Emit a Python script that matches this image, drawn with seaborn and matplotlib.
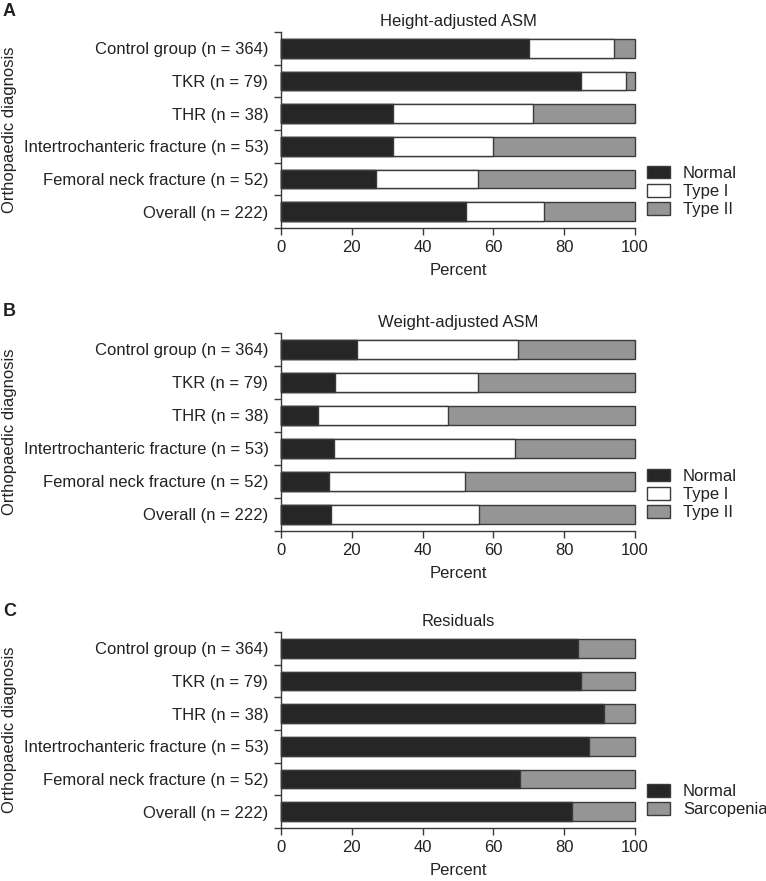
import numpy as np
import matplotlib
matplotlib.use("Agg")
import matplotlib.pyplot as plt
from matplotlib.patches import Patch
import seaborn as sns

# Data (percent per diagnosis group)
groups = [
    "Control group (n = 364)",
    "TKR (n = 79)",
    "THR (n = 38)",
    "Intertrochanteric fracture (n = 53)",
    "Femoral neck fracture (n = 52)",
    "Overall (n = 222)",
]

height_normal = [70.1, 84.8, 31.6, 31.5, 26.9, 52.2]
height_type1 = [24.0, 12.7, 39.5, 28.4, 28.8, 22.1]
height_type2 = [5.9, 2.5, 28.9, 40.1, 44.3, 25.7]

weight_normal = [21.5, 15.2, 10.5, 15.1, 13.5, 14.0]
weight_type1 = [45.4, 40.5, 36.8, 50.9, 38.5, 41.9]
weight_type2 = [33.1, 44.3, 52.7, 34.0, 48.0, 44.1]

resid_normal = [83.9, 84.8, 91.2, 87.0, 67.5, 82.2]
resid_sarcopenia = [16.1, 15.2, 8.8, 13.0, 32.5, 17.8]

x_ticks = [0, 20, 40, 60, 80, 100]

BLACK = "#262626"
WHITE = "#ffffff"
GRAY = "#959595"
EDGE = "#3a3a3a"
TEXT = "#222222"

sns.set_style("ticks")
plt.rcParams["font.family"] = ["Liberation Sans", "DejaVu Sans"]
plt.rcParams["font.size"] = 12
plt.rcParams["text.color"] = TEXT
plt.rcParams["axes.labelcolor"] = TEXT
plt.rcParams["xtick.color"] = EDGE
plt.rcParams["ytick.color"] = EDGE
plt.rcParams["xtick.labelcolor"] = TEXT
plt.rcParams["ytick.labelcolor"] = TEXT

W, H = 766, 881


def draw_panel(ax, title, series, names, colors):
    """Barras horizontais empilhadas, desenhadas da soma maior para a menor."""
    cum = np.cumsum(np.array(series, dtype=float), axis=0)
    for i in range(len(series) - 1, -1, -1):
        sns.barplot(x=cum[i], y=groups, orient="h", color=colors[i],
                    saturation=1, width=0.58, edgecolor=EDGE, linewidth=1,
                    errorbar=None, ax=ax)
    for p in ax.patches:
        p.set_clip_on(False)
    ax.set_xlim(0, 100)
    ax.set_ylim(len(groups) - 0.5, -0.5)
    ax.set_xticks(x_ticks)
    ax.set_yticks(np.arange(-0.5, len(groups), 1), minor=True)
    ax.tick_params(axis="y", which="major", length=0, pad=9, labelsize=12)
    ax.tick_params(axis="y", which="minor", length=5, width=1)
    ax.tick_params(axis="x", length=5, width=1, labelsize=12)
    ax.set_title(title, fontsize=12, pad=4)
    ax.set_xlabel("Percent", fontsize=12, labelpad=6)
    ax.set_ylabel("")
    for side in ["top", "right"]:
        ax.spines[side].set_visible(False)
    for side in ["left", "bottom"]:
        ax.spines[side].set_color(EDGE)
        ax.spines[side].set_linewidth(1)

    handles = [Patch(facecolor=c, edgecolor=EDGE, linewidth=1) for c in colors]
    ax.legend(handles, names, loc="lower left", bbox_to_anchor=(1.034, 0.055),
              frameon=False, borderpad=0, borderaxespad=0, fontsize=12,
              labelspacing=0.18, handlelength=1.35, handleheight=0.8,
              handletextpad=0.8)


fig = plt.figure(figsize=(W / 100, H / 100), dpi=100)

left = 281 / W
width = 354 / W
panels = [
    ("A", "Height-adjusted ASM", [height_normal, height_type1, height_type2],
     ["Normal", "Type I", "Type II"], [BLACK, WHITE, GRAY], 32, 228),
    ("B", "Weight-adjusted ASM", [weight_normal, weight_type1, weight_type2],
     ["Normal", "Type I", "Type II"], [BLACK, WHITE, GRAY], 333, 531),
    ("C", "Residuals", [resid_normal, resid_sarcopenia],
     ["Normal", "Sarcopenia"], [BLACK, GRAY], 632, 828),
]

for letter, title, series, names, colors, top, bottom in panels:
    ax = fig.add_axes([left, 1 - bottom / H, width, (bottom - top) / H])
    draw_panel(ax, title, series, names, colors)
    fig.text(3 / W, 1 - (top - 21) / H, letter, ha="left", va="center",
             fontsize=13, fontweight="bold")
    fig.text(10 / W, 1 - ((top + bottom) / 2) / H, "Orthopaedic diagnosis",
             rotation=90, ha="center", va="center", fontsize=12)

fig.savefig("out.png", dpi=100)
plt.close(fig)
